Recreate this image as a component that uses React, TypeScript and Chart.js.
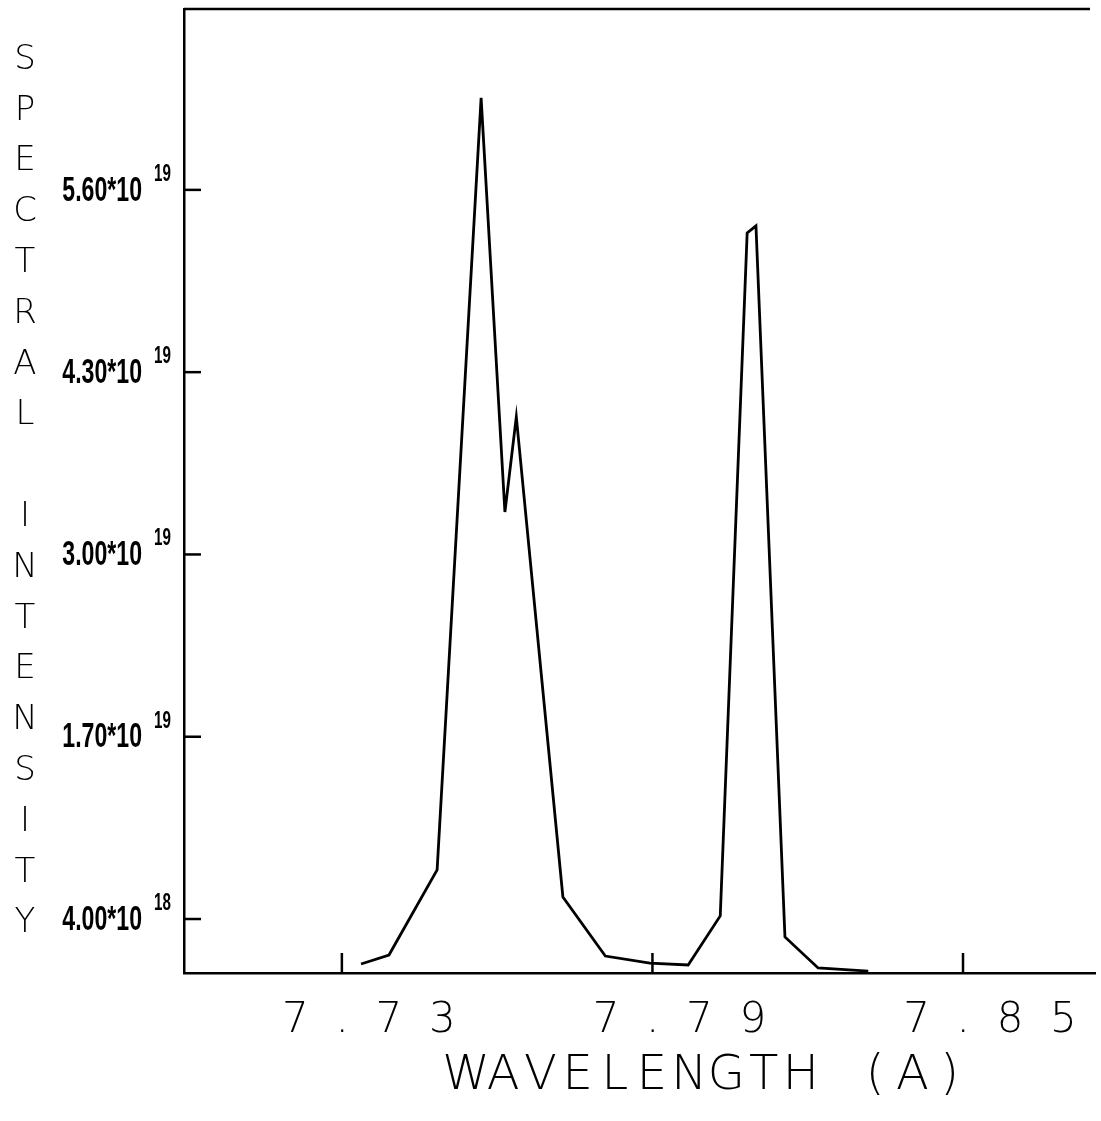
import React, { useEffect, useRef } from 'react';
import { Chart, registerables } from 'chart.js';

Chart.register(...registerables);

// Wavelength in angstroms
const wavelength = [7.7337, 7.7391, 7.7484, 7.7569, 7.7615, 7.7637, 7.7727, 7.7809, 7.7895, 7.7969, 7.8031, 7.8083, 7.81, 7.8156, 7.822, 7.8317];
// Spectral intensity in units of 1e18
const intensityE18 = [0.79, 1.43, 7.5, 62.56, 33.03, 39.81, 5.57, 1.36, 0.86, 0.72, 4.22, 52.93, 53.43, 2.72, 0.51, 0.29];

const xTickValues = [7.73, 7.79, 7.85];
const xTickLabels = ['7  .  7  3', '7  .  7  9', '7  .  8  5'];
const yTickValues = [4, 17, 30, 43, 56];
const yTickMantissas = ['4.00*10', '1.70*10', '3.00*10', '4.30*10', '5.60*10'];
const yTickExponents = ['18', '19', '19', '19', '19'];
const xTitle = 'WAVELENGTH (A)';
const yTitle = 'SPECTRAL INTENSITY';

const X_MIN = 7.6995;
const X_MAX = 7.8755;
const Y_MIN = 0.15;
const Y_MAX = 68.9;

const overlay = {
  id: 'overlay',
  afterDraw(chart: any) {
    const { ctx, chartArea, scales } = chart;
    const xs = scales.x;
    const ys = scales.y;
    ctx.save();
    ctx.strokeStyle = '#000';
    ctx.fillStyle = '#000';
    ctx.lineWidth = 2.5;
    ctx.lineCap = 'butt';

    // top frame line (no right frame in the original)
    ctx.beginPath();
    ctx.moveTo(chartArea.left, chartArea.top);
    ctx.lineTo(chartArea.right - 5, chartArea.top);
    ctx.stroke();

    // inward tick marks
    xs.ticks.forEach((t: any) => {
      const px = xs.getPixelForValue(t.value);
      ctx.beginPath();
      ctx.moveTo(px, chartArea.bottom);
      ctx.lineTo(px, chartArea.bottom - 20);
      ctx.stroke();
    });
    ys.ticks.forEach((t: any) => {
      const py = ys.getPixelForValue(t.value);
      ctx.beginPath();
      ctx.moveTo(chartArea.left, py);
      ctx.lineTo(chartArea.left + 17, py);
      ctx.stroke();
    });

    // y tick labels with superscript exponents
    ys.ticks.forEach((t: any, i: number) => {
      const py = ys.getPixelForValue(t.value);
      ctx.save();
      ctx.translate(chartArea.left - 42, py + 1);
      ctx.scale(0.66, 1);
      ctx.font = 'bold 35px "Liberation Sans"';
      ctx.textAlign = 'right';
      ctx.textBaseline = 'middle';
      ctx.fillText(yTickMantissas[i], 0, 0);
      ctx.restore();
      ctx.save();
      ctx.translate(chartArea.left - 30, py - 9);
      ctx.scale(0.66, 1);
      ctx.font = 'bold 23px "Liberation Sans"';
      ctx.textAlign = 'left';
      ctx.textBaseline = 'alphabetic';
      ctx.fillText(yTickExponents[i], 0, 0);
      ctx.restore();
    });

    // y title: letters stacked vertically
    ctx.font = '200 34px "DejaVu Sans"';
    ctx.textAlign = 'center';
    ctx.textBaseline = 'middle';
    for (let i = 0; i < yTitle.length; i++) {
      const ch = yTitle[i];
      if (ch === ' ') continue;
      ctx.fillText(ch, 25, 60 + i * 50.8);
    }

    // x title: spaced letters
    ctx.font = '200 48px "DejaVu Sans"';
    for (let i = 0; i < xTitle.length; i++) {
      const ch = xTitle[i];
      if (ch === ' ') continue;
      ctx.fillText(ch, 466 + i * 37.2, 1077);
    }
    ctx.restore();
  },
};

export default function App() {
  const ref = useRef<HTMLCanvasElement | null>(null);

  useEffect(() => {
    document.body.style.margin = '0';
    const canvas = ref.current;
    if (!canvas) return;
    const chart = new Chart(canvas, {
      type: 'line',
      data: {
        datasets: [
          {
            data: wavelength.map((w, i) => ({ x: w, y: intensityE18[i] })),
            borderColor: '#000',
            borderWidth: 2.8,
            pointRadius: 0,
            tension: 0,
            fill: false,
          },
        ],
      },
      options: {
        animation: false,
        responsive: false,
        devicePixelRatio: 1,
        plugins: { legend: { display: false }, tooltip: { enabled: false } },
        layout: { padding: { top: 9, right: 6, left: 0, bottom: 0 } },
        scales: {
          x: {
            type: 'linear',
            min: X_MIN,
            max: X_MAX,
            afterBuildTicks: (s: any) => {
              s.ticks = xTickValues.map((v) => ({ value: v }));
            },
            afterFit: (s: any) => {
              s.height = 148;
            },
            grid: { display: false, drawTicks: false },
            border: { display: true, color: '#000', width: 2.5 },
            ticks: {
              color: '#000',
              font: { family: '"DejaVu Sans"', size: 42, weight: '200' },
              padding: 23,
              labelOffset: 27,
              maxRotation: 0,
              autoSkip: false,
              callback: (_v: any, i: number) => xTickLabels[i],
            },
          },
          y: {
            type: 'linear',
            min: Y_MIN,
            max: Y_MAX,
            afterBuildTicks: (s: any) => {
              s.ticks = yTickValues.map((v) => ({ value: v }));
            },
            afterFit: (s: any) => {
              s.width = 184;
            },
            grid: { display: false, drawTicks: false },
            border: { display: true, color: '#000', width: 2.5 },
            ticks: { display: false },
          },
        },
      } as any,
      plugins: [overlay],
    });
    return () => chart.destroy();
  }, []);

  return <canvas ref={ref} width={1101} height={1121} style={{ display: 'block' }} />;
}
